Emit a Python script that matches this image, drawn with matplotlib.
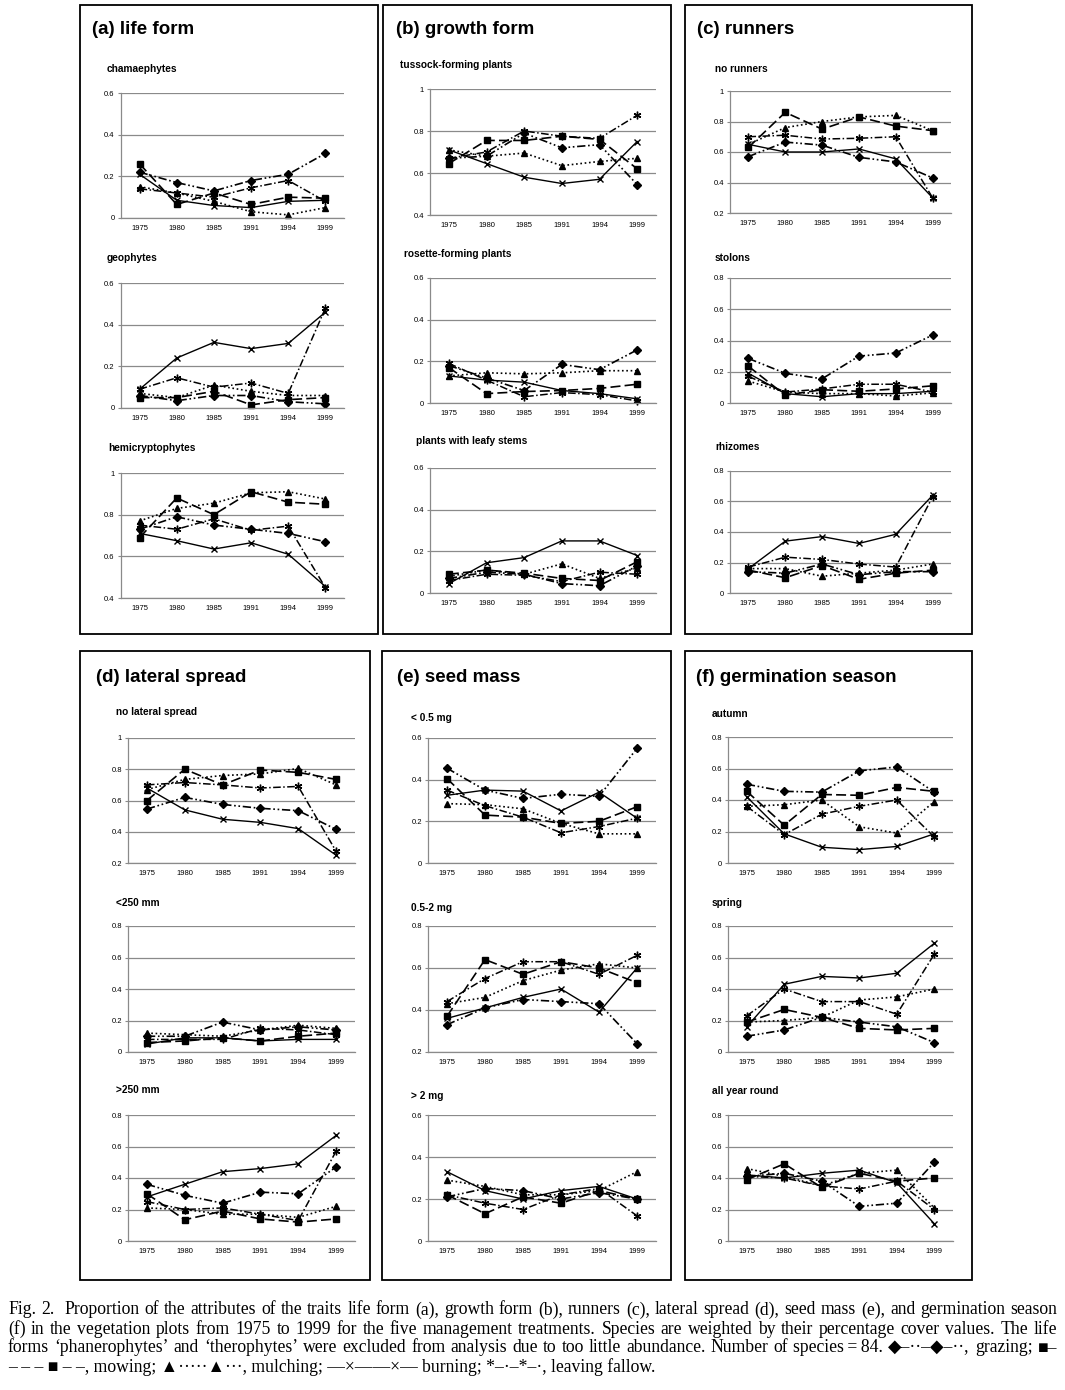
import matplotlib
matplotlib.use('Agg')
import matplotlib.pyplot as plt
from matplotlib.patches import Rectangle

W, H = 1065, 1390
fig = plt.figure(figsize=(W / 100, H / 100), dpi=100)
plt.rcParams['font.family'] = ['Liberation Sans', 'DejaVu Sans']

years = ['1975', '1980', '1985', '1991', '1994', '1999']
treatments = ['grazing', 'mowing', 'mulching', 'burning', 'fallow']

# rows: grazing, mowing, mulching, burning, fallow
chamaephytes = [
    [0.22, 0.17, 0.13, 0.18, 0.21, 0.31],
    [0.26, 0.065, 0.12, 0.065, 0.10, 0.095],
    [0.15, 0.12, 0.08, 0.03, 0.015, 0.05],
    [0.21, 0.085, 0.06, 0.05, 0.08, 0.085],
    [0.14, 0.12, 0.10, 0.145, 0.18, 0.08],
]
geophytes = [
    [0.06, 0.035, 0.06, 0.06, 0.03, 0.02],
    [0.05, 0.05, 0.08, 0.015, 0.04, 0.05],
    [0.07, 0.05, 0.11, 0.08, 0.06, 0.06],
    [0.09, 0.24, 0.315, 0.285, 0.31, 0.46],
    [0.09, 0.145, 0.10, 0.12, 0.07, 0.48],
]
hemicryptophytes = [
    [0.73, 0.79, 0.75, 0.73, 0.71, 0.67],
    [0.69, 0.88, 0.80, 0.91, 0.86, 0.85],
    [0.77, 0.83, 0.855, 0.905, 0.91, 0.875],
    [0.71, 0.675, 0.635, 0.665, 0.61, 0.455],
    [0.75, 0.73, 0.78, 0.725, 0.745, 0.45],
]
tussock = [
    [0.67, 0.68, 0.79, 0.72, 0.735, 0.545],
    [0.645, 0.755, 0.755, 0.775, 0.76, 0.62],
    [0.71, 0.68, 0.695, 0.635, 0.655, 0.67],
    [0.71, 0.645, 0.58, 0.55, 0.57, 0.75],
    [0.67, 0.70, 0.80, 0.775, 0.765, 0.875],
]
rosette = [
    [0.18, 0.12, 0.06, 0.185, 0.16, 0.255],
    [0.17, 0.045, 0.055, 0.06, 0.07, 0.09],
    [0.13, 0.145, 0.14, 0.145, 0.155, 0.155],
    [0.13, 0.11, 0.10, 0.06, 0.045, 0.02],
    [0.19, 0.11, 0.03, 0.05, 0.04, 0.01],
]
leafy = [
    [0.07, 0.10, 0.09, 0.045, 0.035, 0.13],
    [0.09, 0.11, 0.095, 0.07, 0.06, 0.15],
    [0.08, 0.11, 0.09, 0.14, 0.07, 0.12],
    [0.045, 0.145, 0.17, 0.25, 0.25, 0.18],
    [0.06, 0.09, 0.085, 0.055, 0.10, 0.09],
]
no_runners = [
    [0.57, 0.665, 0.645, 0.565, 0.535, 0.43],
    [0.63, 0.86, 0.75, 0.83, 0.77, 0.74],
    [0.65, 0.76, 0.80, 0.83, 0.84, 0.74],
    [0.65, 0.60, 0.60, 0.62, 0.555, 0.30],
    [0.70, 0.71, 0.685, 0.69, 0.70, 0.30],
]
stolons = [
    [0.285, 0.19, 0.155, 0.30, 0.32, 0.435],
    [0.235, 0.05, 0.085, 0.075, 0.09, 0.11],
    [0.14, 0.07, 0.06, 0.06, 0.045, 0.065],
    [0.19, 0.06, 0.04, 0.06, 0.06, 0.075],
    [0.17, 0.07, 0.09, 0.12, 0.12, 0.07],
]
rhizomes = [
    [0.14, 0.13, 0.19, 0.12, 0.14, 0.14],
    [0.15, 0.10, 0.18, 0.09, 0.13, 0.15],
    [0.16, 0.16, 0.11, 0.13, 0.15, 0.19],
    [0.16, 0.34, 0.37, 0.325, 0.385, 0.64],
    [0.17, 0.235, 0.22, 0.19, 0.17, 0.63],
]
no_lateral = [
    [0.545, 0.62, 0.575, 0.55, 0.535, 0.415],
    [0.60, 0.80, 0.70, 0.795, 0.78, 0.735],
    [0.67, 0.735, 0.76, 0.77, 0.805, 0.70],
    [0.68, 0.54, 0.48, 0.46, 0.42, 0.25],
    [0.70, 0.715, 0.70, 0.68, 0.69, 0.275],
]
lat_lt250 = [
    [0.10, 0.10, 0.19, 0.14, 0.16, 0.14],
    [0.06, 0.07, 0.09, 0.07, 0.10, 0.12],
    [0.12, 0.11, 0.10, 0.14, 0.17, 0.15],
    [0.05, 0.09, 0.09, 0.07, 0.08, 0.08],
    [0.08, 0.08, 0.08, 0.15, 0.14, 0.11],
]
lat_gt250 = [
    [0.36, 0.29, 0.24, 0.31, 0.30, 0.47],
    [0.30, 0.135, 0.19, 0.14, 0.12, 0.14],
    [0.21, 0.20, 0.17, 0.17, 0.15, 0.22],
    [0.28, 0.36, 0.44, 0.46, 0.49, 0.67],
    [0.25, 0.20, 0.21, 0.17, 0.13, 0.57],
]
seed_lt05 = [
    [0.455, 0.35, 0.31, 0.33, 0.32, 0.55],
    [0.405, 0.23, 0.22, 0.19, 0.20, 0.27],
    [0.285, 0.28, 0.26, 0.19, 0.14, 0.14],
    [0.325, 0.35, 0.345, 0.25, 0.34, 0.215],
    [0.35, 0.275, 0.22, 0.145, 0.175, 0.215],
]
seed_05_2 = [
    [0.33, 0.41, 0.45, 0.44, 0.43, 0.24],
    [0.37, 0.64, 0.57, 0.63, 0.60, 0.53],
    [0.43, 0.46, 0.54, 0.59, 0.62, 0.60],
    [0.36, 0.41, 0.46, 0.50, 0.39, 0.60],
    [0.44, 0.55, 0.63, 0.63, 0.57, 0.66],
]
seed_gt2 = [
    [0.21, 0.25, 0.24, 0.20, 0.23, 0.20],
    [0.22, 0.13, 0.21, 0.18, 0.24, 0.20],
    [0.29, 0.26, 0.22, 0.22, 0.24, 0.33],
    [0.33, 0.24, 0.20, 0.24, 0.26, 0.20],
    [0.22, 0.18, 0.15, 0.22, 0.25, 0.12],
]
autumn = [
    [0.50, 0.455, 0.45, 0.585, 0.61, 0.45],
    [0.455, 0.24, 0.435, 0.43, 0.48, 0.455],
    [0.36, 0.37, 0.40, 0.23, 0.19, 0.39],
    [0.42, 0.185, 0.10, 0.085, 0.105, 0.185],
    [0.36, 0.18, 0.31, 0.36, 0.40, 0.165],
]
spring = [
    [0.10, 0.14, 0.22, 0.19, 0.16, 0.06],
    [0.19, 0.27, 0.22, 0.15, 0.14, 0.15],
    [0.19, 0.20, 0.22, 0.33, 0.35, 0.40],
    [0.16, 0.43, 0.48, 0.47, 0.50, 0.69],
    [0.23, 0.40, 0.32, 0.32, 0.24, 0.62],
]
all_year = [
    [0.41, 0.43, 0.38, 0.22, 0.24, 0.50],
    [0.39, 0.49, 0.34, 0.43, 0.38, 0.40],
    [0.46, 0.41, 0.35, 0.43, 0.45, 0.21],
    [0.42, 0.40, 0.43, 0.45, 0.37, 0.11],
    [0.41, 0.40, 0.35, 0.33, 0.38, 0.20],
]

panel_titles = ['(a) life form', '(b) growth form', '(c) runners',
                '(d) lateral spread', '(e) seed mass', '(f) germination season']
sub_titles = [
    ['chamaephytes', 'geophytes', 'hemicryptophytes'],
    ['tussock-forming plants', 'rosette-forming plants', 'plants with leafy stems'],
    ['no runners', 'stolons', 'rhizomes'],
    ['no lateral spread', '<250 mm', '>250 mm'],
    ['< 0.5 mg', '0.5-2 mg', '> 2 mg'],
    ['autumn', 'spring', 'all year round'],
]
panel_data = [
    [chamaephytes, geophytes, hemicryptophytes],
    [tussock, rosette, leafy],
    [no_runners, stolons, rhizomes],
    [no_lateral, lat_lt250, lat_gt250],
    [seed_lt05, seed_05_2, seed_gt2],
    [autumn, spring, all_year],
]
ylims = [
    [(0, 0.6), (0, 0.6), (0.4, 1.0)],
    [(0.4, 1.0), (0, 0.6), (0, 0.6)],
    [(0.2, 1.0), (0, 0.8), (0, 0.8)],
    [(0.2, 1.0), (0, 0.8), (0, 0.8)],
    [(0, 0.6), (0.2, 0.8), (0, 0.6)],
    [(0, 0.8), (0, 0.8), (0, 0.8)],
]

# layout in pixels
boxes = [(80, 5, 378, 634), (383, 5, 671, 634), (685, 5, 972, 634),
         (80, 651, 370, 1280), (382, 651, 671, 1280), (685, 651, 972, 1280)]
title_pos = [(92, 30), (396, 30), (697, 30), (96, 677), (397, 677), (696, 677)]
ax_x = [(121, 344), (430, 656), (730, 951), (128, 355), (428, 656), (728, 953)]
ax_rows = [
    [(93, 218), (283, 408), (473, 598)],
    [(89, 215), (278, 403), (468, 593)],
    [(91, 213), (278, 403), (471, 593)],
    [(738, 863), (926, 1052), (1115, 1241)],
    [(738, 863), (926, 1052), (1115, 1241)],
    [(737, 863), (926, 1052), (1115, 1241)],
]
sub_pos = [
    [(107, 69), (107, 258), (108, 448)],
    [(400, 65), (404, 254), (416, 441)],
    [(715, 69), (715, 258), (715, 447)],
    [(116, 712), (116, 903), (116, 1090)],
    [(411, 718), (411, 908), (411, 1096)],
    [(712, 714), (712, 903), (712, 1091)],
]

styles = [
    dict(marker='D', ms=3.8, ls=(0, (5, 1.6, 1, 1.6, 1, 1.6)), lw=1.2),
    dict(marker='s', ms=5.0, ls=(0, (6, 2.5)), lw=1.2),
    dict(marker='^', ms=4.8, ls=(0, (1, 1.6)), lw=1.2),
    dict(marker='x', ms=4.5, ls='-', lw=1.0, mew=1.0),
    dict(marker=(6, 2, 0), ms=5.5, ls=(0, (5, 1.6, 1, 1.6)), lw=1.1, mew=1.0),
]

def fmt(v):
    s = f'{v:.1f}'
    if s == '0.0':
        return '0'
    if s == '1.0':
        return '1'
    return s

grid_c = '#8a8a8a'
for p in range(6):
    x0, y0, x1, y1 = boxes[p]
    fig.add_artist(Rectangle((x0 / W, 1 - y1 / H), (x1 - x0) / W, (y1 - y0) / H,
                             transform=fig.transFigure, fill=False, lw=1.3, ec='black'))
    tx, ty = title_pos[p]
    fig.text(tx / W, 1 - ty / H, panel_titles[p], ha='left', va='center',
             fontsize=13.5, fontweight='bold')
    axl, axr = ax_x[p]
    for r in range(3):
        top, bot = ax_rows[p][r]
        ax = fig.add_axes([axl / W, 1 - bot / H, (axr - axl) / W, (bot - top) / H])
        data = panel_data[p][r]
        xs = list(range(len(years)))
        for k, tr in enumerate(treatments):
            st = styles[k]
            ax.plot(xs, data[k], color='black', mfc='black', mec='black',
                    label=tr, clip_on=False, **st)
        lo, hi = ylims[p][r]
        ax.set_xlim(-0.5, 5.5)
        ax.set_ylim(lo, hi)
        n = int(round((hi - lo) / 0.2))
        ticks = [lo + 0.2 * i for i in range(n + 1)]
        ax.set_yticks(ticks)
        ax.set_yticklabels([fmt(t) for t in ticks])
        ax.set_xticks(xs)
        ax.set_xticklabels(years)
        ax.tick_params(axis='x', length=0, labelsize=5.5, pad=5)
        ax.tick_params(axis='y', length=2.5, color=grid_c, width=0.8, labelsize=5.5, pad=2)
        for s in ['top', 'right']:
            ax.spines[s].set_visible(False)
        for s in ['left', 'bottom']:
            ax.spines[s].set_color(grid_c)
            ax.spines[s].set_linewidth(0.9)
        ax.grid(axis='y', color=grid_c, lw=0.9)
        ax.set_axisbelow(True)
        ax.patch.set_alpha(0)
        sx, sy = sub_pos[p][r]
        fig.text(sx / W, 1 - sy / H, sub_titles[p][r], ha='left', va='center',
                 fontsize=7.3, fontweight='bold')

caption_lines = [
    "Fig. 2.  Proportion of the attributes of the traits life form (a), growth form (b), runners (c), lateral spread (d), seed mass (e), and germination season",
    "(f) in the vegetation plots from 1975 to 1999 for the five management treatments. Species are weighted by their percentage cover values. The life",
    "forms \u2018phanerophytes\u2019 and \u2018therophytes\u2019 were excluded from analysis due to too little abundance. Number of species\u2009=\u200984. \u25c6\u2013\u00b7\u00b7\u2013\u25c6\u2013\u00b7\u00b7, grazing; \u25a0\u2013",
    "\u2013 \u2013 \u2013 \u25a0 \u2013 \u2013, mowing; \u25b2\u00b7\u00b7\u00b7\u00b7\u00b7\u25b2\u00b7\u00b7\u00b7, mulching; \u2014\u00d7\u2014\u2014\u00d7\u2014 burning; *\u2013\u00b7\u2013*\u2013\u00b7, leaving fallow.",
]
cap_y = [1310, 1329, 1348, 1367]
cap_left, cap_right = 8, 1057
cap_font = dict(fontsize=12.7, family=['Liberation Serif', 'DejaVu Sans'])

fig.canvas.draw()
renderer = fig.canvas.get_renderer()
for i, line in enumerate(caption_lines):
    y = 1 - cap_y[i] / H
    words = line.split(' ')
    if i == len(caption_lines) - 1:
        fig.text(cap_left / W, y, line, ha='left', va='center', **cap_font)
        continue
    texts = [fig.text(0, y, w, ha='left', va='center', **cap_font) for w in words]
    widths = [t.get_window_extent(renderer).width if w else 0 for t, w in zip(texts, words)]
    gap = (cap_right - cap_left - sum(widths)) / max(len(words) - 1, 1)
    x = cap_left
    for t, w in zip(texts, widths):
        t.set_x(x / W)
        x += w + gap

fig.savefig('out.png', dpi=100, facecolor='white')
